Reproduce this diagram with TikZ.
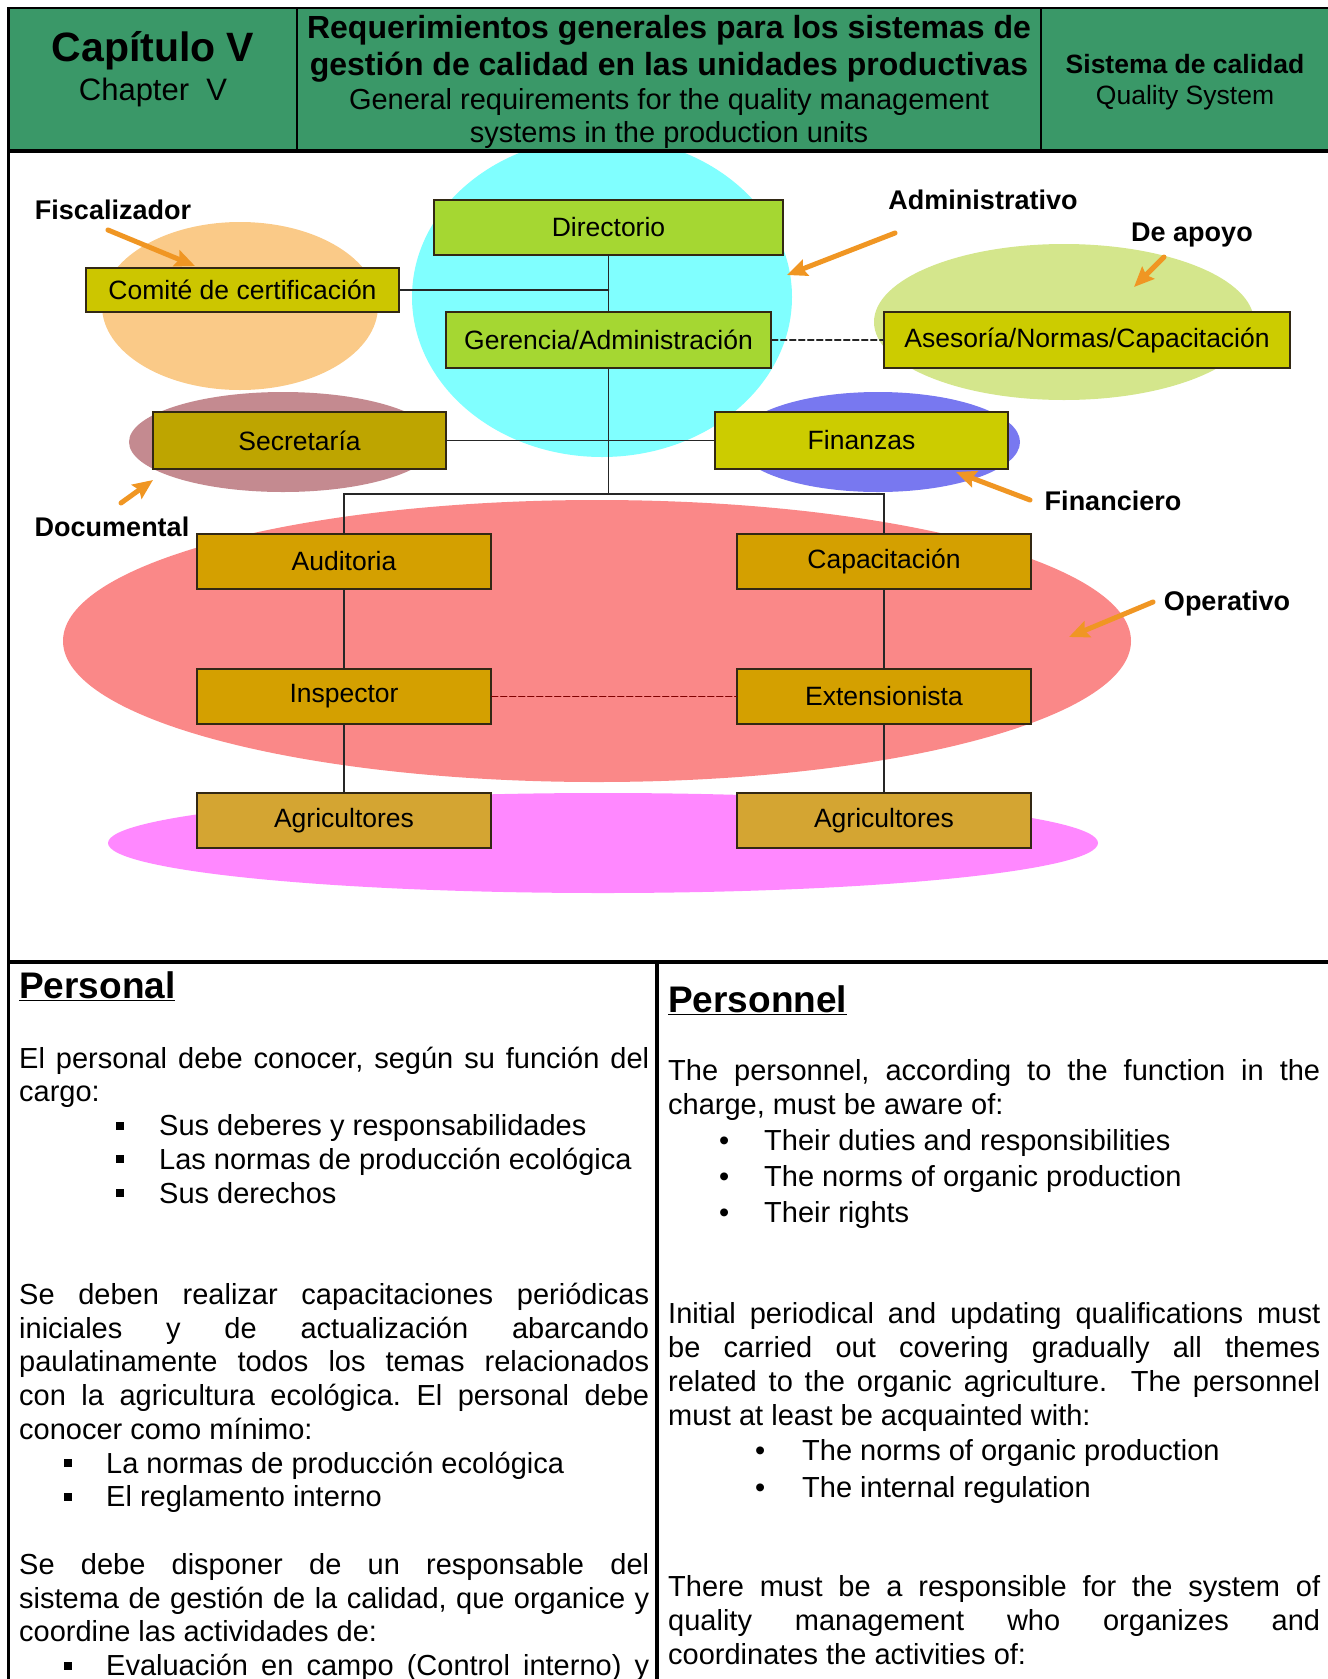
\documentclass[tikz,border=0pt]{standalone}
\usepackage{fontspec}
\setmainfont{Liberation Sans}
\usetikzlibrary{arrows.meta}
\frenchspacing

\newcommand{\jline}[2][630pt]{{\spaceskip=0pt\xspaceskip=0pt\makebox[#1][s]{#2}}}
\newcommand{\sqb}{\raisebox{6pt}{\rule{8pt}{8pt}}}
\newcommand{\rdb}{\makebox[8pt][c]{•}}

\begin{document}
\begin{tikzpicture}
		[x=1pt,y=-1pt,line cap=round,
		%Styles
		unit box/.style={draw=boxline,line width=1.5pt,inner sep=0pt,minimum width=294pt,minimum height=55pt,font=\fontsize{26.5}{30}\selectfont},
		area label/.style={inner sep=0pt,font=\fontsize{27}{30}\selectfont\bfseries},
		pointer/.style={orangeline,line width=5pt,-{Stealth[length=20pt,width=17pt,inset=3pt]}},
		link/.style={line width=1.5pt,black!85},
		headtext/.style={inner sep=0pt,anchor=base},
		rule line/.style={line width=2.5pt,line cap=rect},
		heavy rule/.style={line width=4pt,line cap=rect},
		textcol/.style={inner sep=0pt,anchor=base west,align=flush left,font=\fontsize{29}{33.75}\selectfont}
		]
		
		\useasboundingbox (0,0) rectangle (1328,1679);
		
		%Colors
		\definecolor{headgreen}{RGB}{58,152,104}
		\definecolor{boxline}{RGB}{50,40,20}
		\definecolor{orangeline}{RGB}{240,150,35}
		\definecolor{cyanarea}{RGB}{128,255,255}
		\definecolor{peacharea}{RGB}{250,202,136}
		\definecolor{mauvearea}{RGB}{196,138,144}
		\definecolor{limearea}{RGB}{212,230,140}
		\definecolor{bluearea}{RGB}{120,120,240}
		\definecolor{salmonarea}{RGB}{250,136,136}
		\definecolor{pinkarea}{RGB}{255,136,255}
		\definecolor{boxcyan}{RGB}{165,215,50}
		\definecolor{boxpeach}{RGB}{204,198,0}
		\definecolor{boxyellow}{RGB}{204,204,0}
		\definecolor{boxmauve}{RGB}{190,165,0}
		\definecolor{boxsalmon}{RGB}{212,160,0}
		\definecolor{boxpink}{RGB}{212,165,50}
		
		%Areas
		\fill[cyanarea] (602,297) ellipse [x radius=190pt, y radius=160pt];
		\fill[peacharea] (240,306) ellipse [x radius=138pt, y radius=84pt];
		\fill[mauvearea] (283,442) ellipse [x radius=154pt, y radius=50pt];
		\fill[limearea] (1064,322) ellipse [x radius=190pt, y radius=78pt];
		\fill[bluearea] (878,442) ellipse [x radius=142pt, y radius=50pt];
		\fill[salmonarea] (597,641) ellipse [x radius=534pt, y radius=141pt];
		\fill[pinkarea] (603,843) ellipse [x radius=495pt, y radius=50pt];
		
		%Header and frame
		\fill[headgreen] (8.5,8) rectangle (1332,151);
		\draw[rule line] (8.5,1690) -- (8.5,8) -- (1332,8);
		\draw[rule line] (297,8) -- (297,151);
		\draw[rule line] (1041,8) -- (1041,151);
		\draw[heavy rule] (8.5,151) -- (1332,151);
		\draw[heavy rule] (8.5,962) -- (1332,962);
		\draw[heavy rule] (657,962) -- (657,1690);
		
		\node (chap) [headtext,font=\fontsize{41}{44}\selectfont\bfseries] at (153,61) {Capítulo V};
		\node (chapEN) [headtext,font=\fontsize{31}{34}\selectfont] at (153,100) {Chapter~~V};
		\node (req1) [headtext,font=\fontsize{32}{34}\selectfont\bfseries] at (669,38.5) {Requerimientos generales para los sistemas de};
		\node (req2) [headtext,font=\fontsize{32}{34}\selectfont\bfseries] at (669,75) {gestión de calidad en las unidades productivas};
		\node (gen1) [headtext,font=\fontsize{29}{32}\selectfont] at (669,109) {General requirements for the quality management};
		\node (gen2) [headtext,font=\fontsize{29}{32}\selectfont] at (669,142.5) {systems in the production units};
		\node (sys) [headtext,font=\fontsize{26.5}{30}\selectfont\bfseries] at (1185,73) {Sistema de calidad};
		\node (sysEN) [headtext,font=\fontsize{26.5}{30}\selectfont] at (1185,104) {Quality System};
		
		%Boxes
		\node (dir) [unit box,fill=boxcyan,minimum width=349pt] at (608.5,227.5) {Directorio};
		\node (comite) [unit box,fill=boxpeach,minimum width=313pt,minimum height=44pt] at (242.5,290) {Comité de certificación};
		\node (ger) [unit box,fill=boxcyan,minimum width=325pt,minimum height=56pt] at (608.5,340) {Gerencia/Administración};
		\node (ases) [unit box,fill=boxyellow,minimum width=406pt,minimum height=56pt] at (1087,340) {Asesoría/Normas/Capacitación};
		\node (secr) [unit box,fill=boxmauve,minimum width=293pt,minimum height=57pt] at (299.5,440.5) {Secretaría};
		\node (fin) [unit box,fill=boxyellow,minimum width=293pt,minimum height=57pt] at (861.5,440.5) {Finanzas};
		\node (aud) [unit box,fill=boxsalmon] at (344,561.5) {Auditoria};
		\node (cap) [unit box,fill=boxsalmon] at (884,561.5) {Capacitación};
		\node (insp) [unit box,fill=boxsalmon] at (344,696.5) {Inspector};
		\node (ext) [unit box,fill=boxsalmon] at (884,696.5) {Extensionista};
		\node (agrL) [unit box,fill=boxpink] at (344,820.5) {Agricultores};
		\node (agrR) [unit box,fill=boxpink] at (884,820.5) {Agricultores};
		
		%Links
		\coordinate (hub) at (608.5,494);
		\draw[link] (dir.south) -- (ger.north);
		\draw[link] (comite.east) -- (comite.east -| dir.south);
		\draw[link] (ger.south) -- (hub);
		\draw[link] (secr.east) -- (fin.west);
		\draw[link] (aud.north) |- (hub) -| (cap.north);
		\draw[link] (aud.south) -- (insp.north);
		\draw[link] (insp.south) -- (agrL.north);
		\draw[link] (cap.south) -- (ext.north);
		\draw[link] (ext.south) -- (agrR.north);
		\draw[link,dash pattern=on 6pt off 3pt] (ger.east) -- (ases.west);
		\draw[link,draw=red!50!black,dash pattern=on 6pt off 3pt] (insp.east) -- (ext.west);
		
		%Area labels
		\node (fisc) [area label] at (113,210) {Fiscalizador};
		\node (adm) [area label] at (983,200) {Administrativo};
		\node (apoyo) [area label] at (1192,235) {De apoyo};
		\node (finan) [area label] at (1113,501) {Financiero};
		\node (docu) [area label] at (112,527) {Documental};
		\node (oper) [area label] at (1227,604) {Operativo};
		
		\coordinate (fiscTip) at (195,266);
		\coordinate (admTip) at (787,275);
		\coordinate (apoyoTip) at (1134,287);
		\coordinate (finanTip) at (956,472);
		\coordinate (docuTip) at (153,480);
		\coordinate (operTip) at (1069,637);
		\draw[pointer] ([shift={(-5,20)}]fisc.center) -- (fiscTip);
		\draw[pointer] ([shift={(-88,33)}]adm.center) -- (admTip);
		\draw[pointer] ([shift={(-28,22)}]apoyo.center) -- (apoyoTip);
		\draw[pointer] ([shift={(-83,-1)}]finan.center) -- (finanTip);
		\draw[pointer] ([shift={(9,-24)}]docu.center) -- (docuTip);
		\draw[pointer] ([shift={(-74,-2)}]oper.center) -- (operTip);
		
		%Text columns
		\node (hES) [headtext,anchor=base west,font=\fontsize{37}{40}\selectfont\bfseries] at (19,998) {\underline{Personal}};
		\node (hEN) [headtext,anchor=base west,font=\fontsize{37}{40}\selectfont\bfseries] at (668,1012) {\underline{Personnel}};
		
		\node (colES) [textcol,text width=630pt] at (19,1068) {%
			\jline{El personal debe conocer, según su función del}\\
			cargo:\\
			\hspace*{97pt}\sqb\hspace*{35pt}Sus deberes y responsabilidades\\
			\hspace*{97pt}\sqb\hspace*{35pt}Las normas de producción ecológica\\
			\hspace*{97pt}\sqb\hspace*{35pt}Sus derechos\\[67.5pt]
			\jline{Se deben realizar capacitaciones periódicas}\\
			\jline{iniciales y de actualización abarcando}\\
			\jline{paulatinamente todos los temas relacionados}\\
			\jline{con la agricultura ecológica. El personal debe}\\
			conocer como mínimo:\\
			\hspace*{45pt}\sqb\hspace*{34pt}La normas de producción ecológica\\
			\hspace*{45pt}\sqb\hspace*{34pt}El reglamento interno\\[33.75pt]
			\jline{Se debe disponer de un responsable del}\\
			\jline{sistema de gestión de la calidad, que organice y}\\
			coordine las actividades de:\\
			\hspace*{45pt}\sqb\hspace*{34pt}\jline[543pt]{Evaluación en campo (Control interno) y}};
		
		\node (colEN) [textcol,text width=652pt,font=\fontsize{29}{34}\selectfont] at (668,1080) {%
			\jline[652pt]{The personnel, according to the function in the}\\
			charge, must be aware of:\\[2pt]
			\hspace*{52pt}\rdb\hspace*{36pt}Their duties and responsibilities\\[2pt]
			\hspace*{52pt}\rdb\hspace*{36pt}The norms of organic production\\[2pt]
			\hspace*{52pt}\rdb\hspace*{36pt}Their rights\\[67pt]
			\jline[652pt]{Initial periodical and updating qualifications must}\\
			\jline[652pt]{be carried out covering gradually all themes}\\
			\jline[652pt]{related to the organic agriculture.\ \ The personnel}\\
			must at least be acquainted with:\\[1pt]
			\hspace*{88pt}\rdb\hspace*{38pt}The norms of organic production\\[3pt]
			\hspace*{88pt}\rdb\hspace*{38pt}The internal regulation\\[65pt]
			\jline[652pt]{There must be a responsible for the system of}\\
			\jline[652pt]{quality management who organizes and}\\
			coordinates the activities of:};
	\end{tikzpicture}
\end{document}
